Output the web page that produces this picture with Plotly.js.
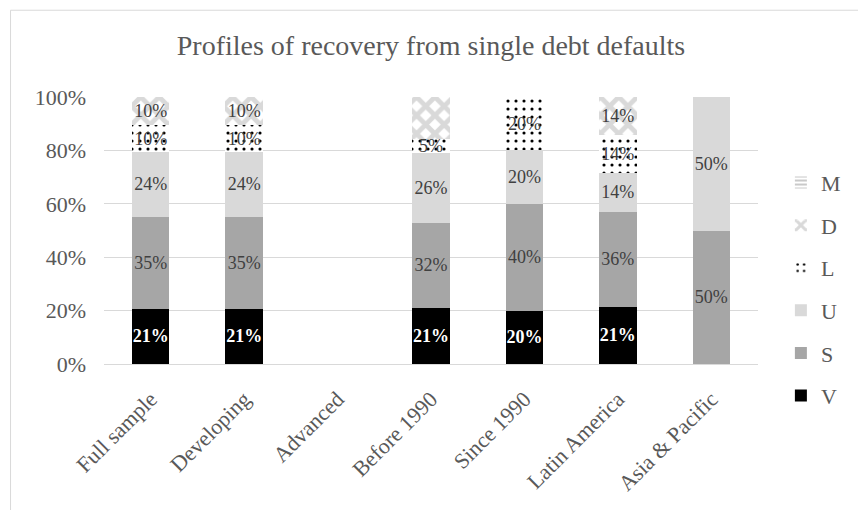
<!DOCTYPE html>
<html>
<head>
<meta charset="utf-8">
<script src="https://cdn.plot.ly/plotly-3.0.1.min.js"></script>
<style>html,body{margin:0;padding:0;background:#fff;}#chart{width:858px;height:510px;}</style>
</head>
<body>
<div id="chart"></div>
<script>
var categories = ["Full sample", "Developing", "Advanced", "Before 1990", "Since 1990", "Latin America", "Asia & Pacific"];
var V = [20.7, 20.7, null, 21.1, 20.0, 21.4, null];
var S = [34.5, 34.5, null, 31.6, 40.0, 35.7, 50.0];
var U = [24.1, 24.1, null, 26.3, 20.0, 14.3, 50.0];
var L = [10.3, 10.3, null, 5.3, 20.0, 14.3, null];
var D = [10.3, 10.3, null, 15.8, null, 14.3, null];
var M = [null, null, null, null, null, null, null];
var yTicks = [0, 20, 40, 60, 80, 100];
var yTickText = ["0%", "20%", "40%", "60%", "80%", "100%"];

var serif = "Liberation Serif, Times New Roman, serif";
var grey = "#595959";

function tr(name, rank, vals, marker, txtColor, bold) {
  return {
    type: "bar", name: name, x: categories, y: vals,
    marker: marker,
    texttemplate: "%{y:.0f}%",
    textposition: "inside",
    insidetextanchor: "middle",
    textangle: 0,
    constraintext: "none",
    cliponaxis: false,
    textfont: {family: serif, size: 18, color: txtColor, weight: bold ? "bold" : "normal"},
    legendgroup: name,
    legendrank: rank,
    hoverinfo: "skip"
  };
}

var data = [
  tr("V", 6, V, {color: "#000000"}, "#ffffff", true),
  tr("S", 5, S, {color: "#a6a6a6"}, "#404040", false),
  tr("U", 4, U, {color: "#d9d9d9"}, "#404040", false),
  tr("L", 3, L, {color: "#ffffff", pattern: {shape: ".", fgcolor: "#000000", bgcolor: "#ffffff", size: 8, solidity: 0.12}}, "#404040", false),
  tr("D", 2, D, {color: "#ffffff", pattern: {shape: "x", fgcolor: "#d9d9d9", bgcolor: "#ffffff", size: 13, solidity: 0.6}}, "#404040", false),
  tr("M", 1, M, {color: "#ffffff", pattern: {shape: "-", fgcolor: "#a6a6a6", bgcolor: "#ffffff", size: 5, solidity: 0.3}}, "#404040", false)
];

var layout = {
  width: 858, height: 510,
  margin: {l: 104, r: 96, t: 97, b: 145.5},
  paper_bgcolor: "#ffffff", plot_bgcolor: "#ffffff",
  barmode: "stack",
  bargap: 0.6,
  font: {family: serif, color: grey, size: 22},
  title: {text: "Profiles of recovery from single debt defaults", font: {family: serif, size: 28, color: grey}, x: 0.5, xanchor: "center", y: 0.912, yanchor: "middle", xref: "paper"},
  xaxis: {
    type: "category", tickangle: -45, showgrid: false, showline: false, ticks: "",
    ticklabelstandoff: 17,
    tickfont: {family: serif, size: 22, color: grey}
  },
  yaxis: {
    range: [0, 100], tickvals: yTicks, ticktext: yTickText,
    showgrid: true, gridcolor: "#d9d9d9", gridwidth: 1,
    zeroline: true, zerolinecolor: "#d9d9d9", zerolinewidth: 1,
    showline: false, ticks: "", ticklen: 0,
    ticklabelstandoff: 17,
    tickfont: {family: serif, size: 22, color: grey}
  },
  legend: {
    x: 1.035, xanchor: "left", y: 0.28, yanchor: "middle",
    traceorder: "grouped", tracegroupgap: 11,
    font: {family: serif, size: 22, color: grey},
    bgcolor: "rgba(0,0,0,0)"
  },
  shapes: [{
    type: "rect", xref: "paper", yref: "paper",
    x0: -0.1429, x1: 2, y0: -1, y1: 1.325,
    line: {color: "#d9d9d9", width: 1}, fillcolor: "rgba(0,0,0,0)", layer: "below"
  }]
};

Plotly.newPlot("chart", data, layout, {displayModeBar: false, staticPlot: true});
</script>
</body>
</html>
